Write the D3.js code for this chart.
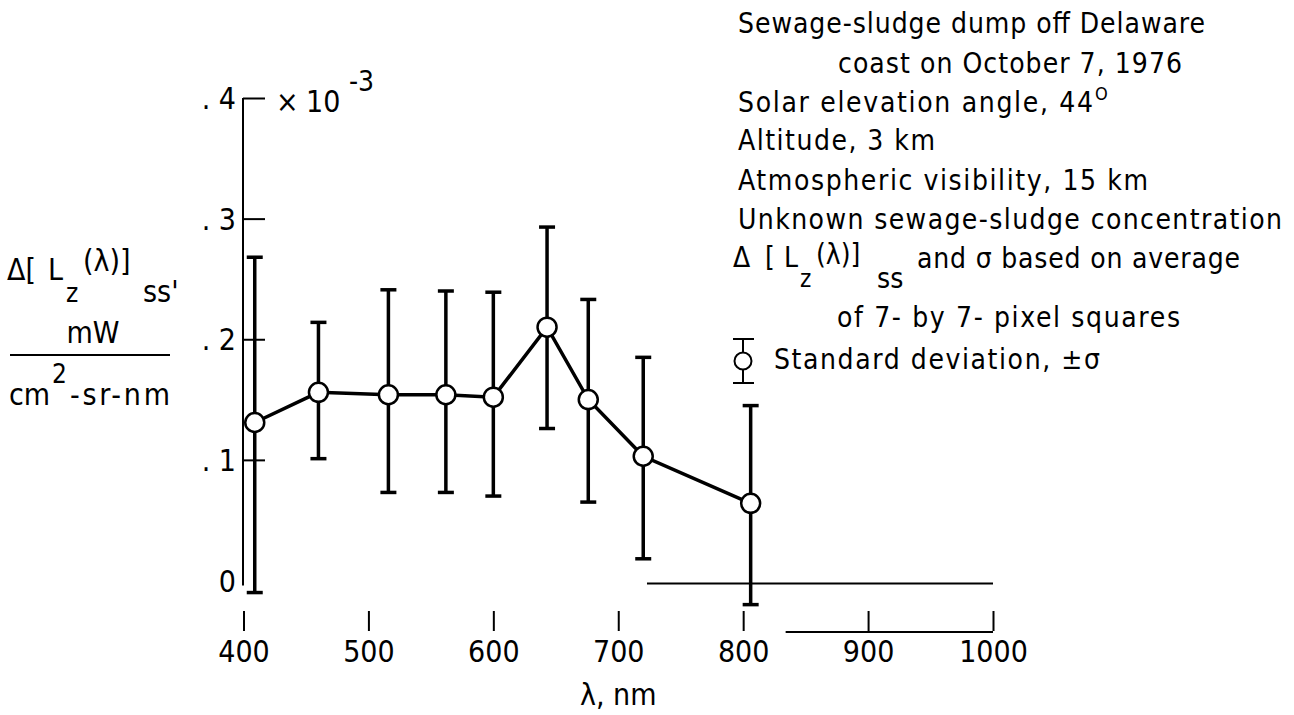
<!DOCTYPE html>
<html>
<head>
<meta charset="utf-8">
<script src="https://cdn.jsdelivr.net/npm/d3@7"></script>
<style>
  body { margin: 0; background: #fff; }
  svg text { font-family: "Liberation Sans Narrow", "DejaVu Sans Condensed", "Liberation Sans", sans-serif; fill: #000; }
</style>
</head>
<body>
<svg id="chart" width="1294" height="715"></svg>
<script>
// wavelength of each sample (nm)
const wavelength = [409, 460, 516, 562, 600, 643, 676, 720, 806];
// Δ[Lz(λ)]ss in units of 1e-3 mW/(cm2-sr-nm)
const radiance = [0.131, 0.156, 0.154, 0.154, 0.152, 0.210, 0.150, 0.103, 0.064];
// ends of the ±σ bars
const sigmaTop = [0.268, 0.214, 0.241, 0.240, 0.239, 0.293, 0.233, 0.185, 0.145];
const sigmaBottom = [-0.010, 0.101, 0.073, 0.073, 0.070, 0.126, 0.065, 0.018, -0.020];

const xTicks = [400, 500, 600, 700, 800, 900, 1000];
const yTicks = [0, 0.1, 0.2, 0.3, 0.4];
const yTickLabels = ["0", ". 1", ". 2", ". 3", ". 4"];

const notes = [
  "Sewage-sludge dump off Delaware",
  "coast on October 7, 1976",
  "Solar elevation angle, 44",
  "Altitude, 3 km",
  "Atmospheric visibility, 15 km",
  "Unknown sewage-sludge concentration",
  "and σ based on average",
  "of 7- by 7- pixel squares"
];
const legendLabel = "Standard deviation, ±σ";

// ----- layout -----
const FONT = '"Liberation Sans Narrow", "DejaVu Sans Condensed", "Liberation Sans", sans-serif';
const svg = d3.select('#chart');

const x = d3.scaleLinear().domain([400, 1000]).range([243.5, 993]);
const y = d3.scaleLinear().domain([0, 0.4]).range([580.5, 98]);

// little helper for loose text pieces
function put(px, py, str, size, opts = {}) {
  const t = svg.append('text')
    .attr('x', px).attr('y', py)
    .attr('font-size', size)
    .text(str);
  if (opts.anchor) t.attr('text-anchor', opts.anchor);
  if (opts.len) t.attr('textLength', opts.len).attr('lengthAdjust', opts.adjust || 'spacing');
  return t;
}

// ----- y axis -----
const yAxis = d3.axisRight(y)
  .tickValues(yTicks.slice(1))
  .tickSize(22)
  .tickSizeOuter(0)
  .tickFormat('');

const gy = svg.append('g')
  .attr('transform', 'translate(243,0)')
  .call(yAxis);
gy.select('.domain').attr('d', `M0,${y(0) + 5}V${y(0.4)}`).attr('stroke-width', 2);
gy.selectAll('.tick line').attr('stroke-width', 2);

svg.append('g').selectAll('text')
  .data(yTicks)
  .join('text')
  .attr('x', 236)
  .attr('y', d => y(d) + 11)
  .attr('text-anchor', 'end')
  .attr('font-size', 30)
  .attr('xml:space', 'preserve')
  .text((d, i) => yTickLabels[i]);

// scale factor
put(276, 112, '×', 30);
put(306, 112, '10', 30);
put(349, 91, '-3', 28);

// ----- x axis -----
const xAxis = d3.axisBottom(x)
  .tickValues(xTicks)
  .tickSize(20)
  .tickPadding(10)
  .tickFormat(d3.format('d'));

const gx = svg.append('g')
  .attr('transform', 'translate(0,611)')
  .attr('font-family', FONT)
  .call(xAxis);
gx.select('.domain').remove();
gx.selectAll('.tick line').attr('stroke-width', 2);
gx.selectAll('.tick text').attr('font-size', 30);

// the stray baseline piece under 900-1000
svg.append('line')
  .attr('x1', x(834)).attr('x2', x(1000))
  .attr('y1', 632).attr('y2', 632)
  .attr('stroke', '#000').attr('stroke-width', 2);

// zero reference line
svg.append('line')
  .attr('x1', x(723)).attr('x2', x(1000))
  .attr('y1', y(0) + 3).attr('y2', y(0) + 3)
  .attr('stroke', '#000').attr('stroke-width', 2);

put(x(700), 705, 'λ, nm', 30, { anchor: 'middle' });

// ----- data -----
const pts = wavelength.map((w, i) => ({ w, v: radiance[i], hi: sigmaTop[i], lo: sigmaBottom[i] }));

const bars = svg.append('g').attr('stroke', '#000').attr('stroke-width', 3.5);
bars.selectAll('.bar')
  .data(pts)
  .join('line')
  .attr('class', 'bar')
  .attr('x1', d => x(d.w)).attr('x2', d => x(d.w))
  .attr('y1', d => y(d.hi)).attr('y2', d => y(d.lo));
bars.selectAll('.capTop')
  .data(pts)
  .join('line')
  .attr('class', 'capTop')
  .attr('x1', d => x(d.w) - 8).attr('x2', d => x(d.w) + 8)
  .attr('y1', d => y(d.hi)).attr('y2', d => y(d.hi));
bars.selectAll('.capBot')
  .data(pts)
  .join('line')
  .attr('class', 'capBot')
  .attr('x1', d => x(d.w) - 8).attr('x2', d => x(d.w) + 8)
  .attr('y1', d => y(d.lo)).attr('y2', d => y(d.lo));

const line = d3.line().x(d => x(d.w)).y(d => y(d.v));
svg.append('path')
  .datum(pts)
  .attr('d', line)
  .attr('fill', 'none')
  .attr('stroke', '#000')
  .attr('stroke-width', 3.5);

svg.append('g').selectAll('circle')
  .data(pts)
  .join('circle')
  .attr('cx', d => x(d.w))
  .attr('cy', d => y(d.v))
  .attr('r', 9.5)
  .attr('fill', '#fff')
  .attr('stroke', '#000')
  .attr('stroke-width', 2.5);

// ----- y axis title -----
put(7, 280, 'Δ[', 30);
put(48, 280, 'L', 30);
put(66, 302, 'z', 26);
put(83, 271, '(λ)]', 30);
put(143, 302, "ss'", 30);
put(93, 343, 'mW', 30, { anchor: 'middle' });
svg.append('line')
  .attr('x1', 10).attr('x2', 170)
  .attr('y1', 355).attr('y2', 355)
  .attr('stroke', '#000').attr('stroke-width', 2);
put(9, 405, 'cm', 30);
put(52, 383, '2', 26);
put(70, 405, '-sr-nm', 30, { len: 100 });

// ----- notes block -----
const noteLayout = [
  { x: 738, y: 33, len: 467 },
  { x: 838, y: 73, len: 344 },
  { x: 738, y: 112, len: 355 },
  { x: 738, y: 150, len: 197 },
  { x: 738, y: 190, len: 410 },
  { x: 738, y: 229, len: 544 },
  { x: 917, y: 268, len: 323 },
  { x: 837, y: 327, len: 343 }
];
notes.forEach((s, i) => put(noteLayout[i].x, noteLayout[i].y, s, 28, { len: noteLayout[i].len }));

put(1095, 100, 'O', 18);           // degree mark
put(733, 267, 'Δ', 28);
put(765, 267, '[', 28);
put(784, 267, 'L', 28);
put(800, 287, 'z', 24);
put(816, 264, '(λ)]', 28);
put(877, 288, 'ss', 28);

// legend symbol
const lg = svg.append('g').attr('stroke', '#000').attr('stroke-width', 2);
lg.append('line').attr('x1', 743).attr('x2', 743).attr('y1', 339).attr('y2', 383);
lg.append('line').attr('x1', 733).attr('x2', 754).attr('y1', 339).attr('y2', 339);
lg.append('line').attr('x1', 733).attr('x2', 754).attr('y1', 383).attr('y2', 383);
lg.append('circle').attr('cx', 743).attr('cy', 361).attr('r', 8.5).attr('fill', '#fff');
put(774, 369, legendLabel, 28, { len: 326 });
</script>
</body>
</html>
